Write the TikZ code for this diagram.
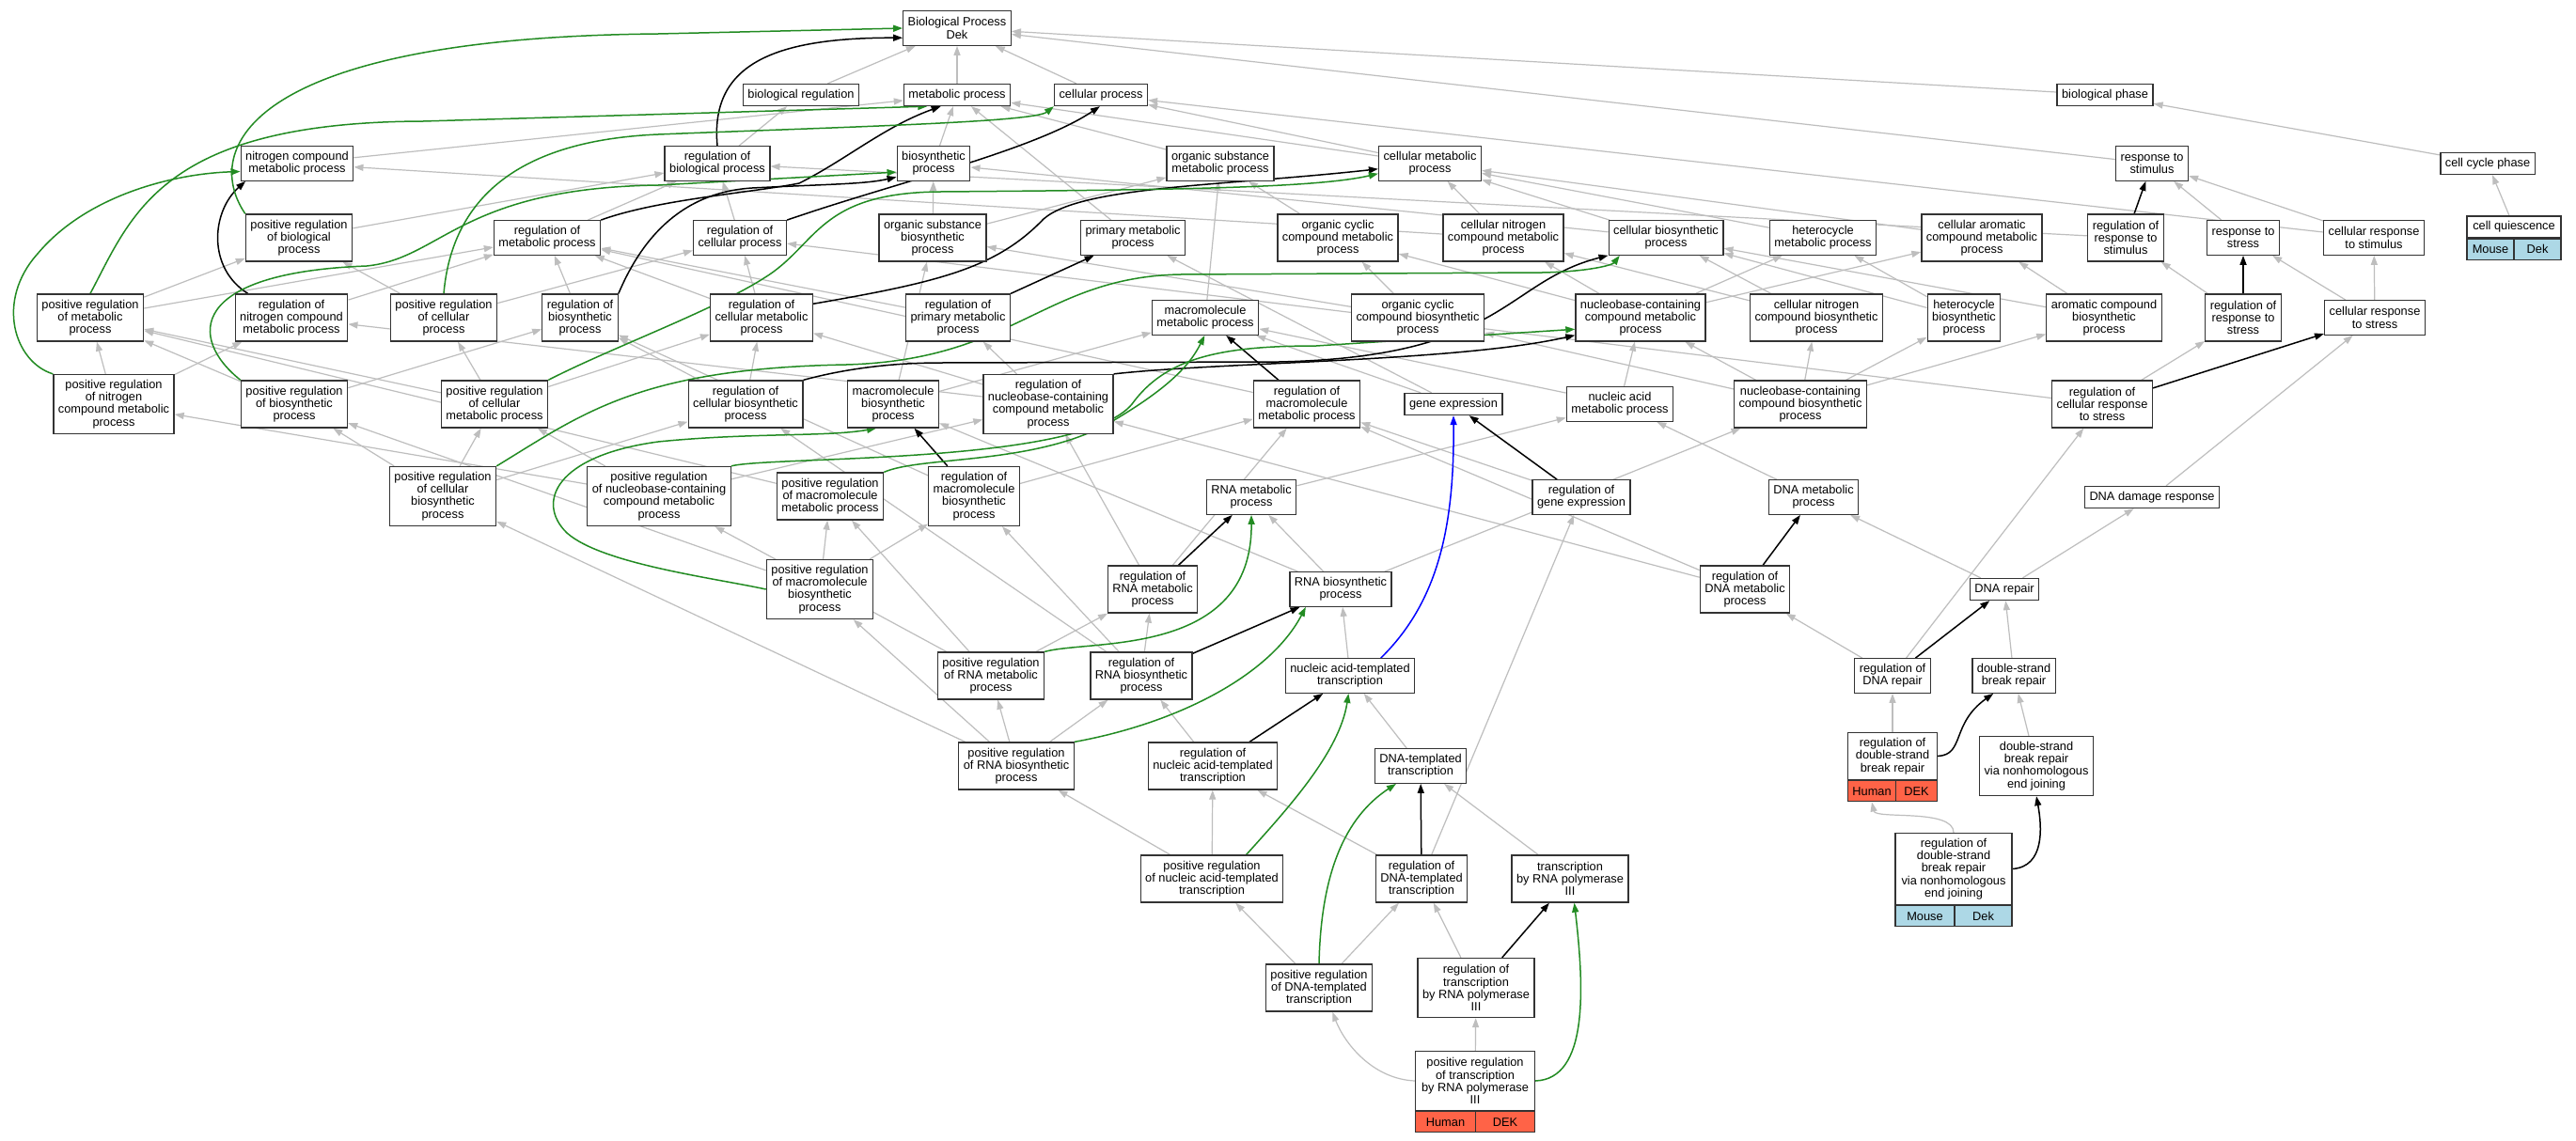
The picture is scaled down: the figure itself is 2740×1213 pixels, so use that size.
\documentclass[tikz,border=0pt]{standalone}
\usepackage{fontspec}
\setmainfont{Liberation Sans}
\usetikzlibrary{arrows.meta}
\definecolor{isagray}{RGB}{190,190,190}
\definecolor{posgreen}{RGB}{34,139,34}
\definecolor{human}{RGB}{255,99,71}
\definecolor{mouse}{RGB}{173,216,230}
\pgfdeclarelayer{back}
\pgfsetlayers{back,main}

\begin{document}
\begin{tikzpicture}[x=1pt,y=-1pt,
  term/.style={draw=black!80, line width=1.3pt, fill=white, align=center, inner xsep=5pt, inner ysep=1pt, font=\fontsize{12.8}{13.3}\selectfont},
  one/.style={term, minimum height=23pt},
  two/.style={term, minimum height=36.5pt},
  three/.style={term, minimum height=50pt},
  four/.style={term, minimum height=63pt},
  five/.style={term, minimum height=76pt},
  sp/.style={term, inner sep=0pt, minimum height=22pt},
  isa/.style={draw=isagray, line width=1.2pt, -{Triangle[length=10pt,width=7pt]}},
  reg/.style={draw=black, line width=1.5pt, -{Triangle[length=10pt,width=7pt]}},
  upreg/.style={draw=posgreen, line width=1.5pt, -{Triangle[length=10pt,width=7pt]}},
  partof/.style={draw=blue, line width=1.5pt, -{Triangle[length=10pt,width=7pt]}}]
\useasboundingbox (0,0) rectangle (2740,1213);

\node[two] (BP) at (1018,30) {Biological Process\\Dek};
\node[one] (bioreg) at (852,101) {biological regulation};
\node[one] (metab) at (1018,101) {metabolic process};
\node[one] (cellproc) at (1171,101) {cellular process};
\node[one] (biophase) at (2239,101) {biological phase};

\node[two] (nitro) at (316,174) {nitrogen compound\\metabolic process};
\node[two] (regbio) at (763,174) {regulation of\\biological process};
\node[two] (biosyn) at (993,174) {biosynthetic\\process};
\node[two] (orgsub) at (1298,174) {organic substance\\metabolic process};
\node[two] (cellmet) at (1521,174) {cellular metabolic\\process};
\node[two] (resp) at (2289,174) {response to\\stimulus};
\node[one] (ccphase) at (2646,174) {cell cycle phase};

\node[three] (posregbio) at (318,253) {positive regulation\\of biological\\process};
\node[two] (regmet) at (582,253) {regulation of\\metabolic process};
\node[two] (regcell) at (787,253) {regulation of\\cellular process};
\node[three] (orgsubbio) at (992,253) {organic substance\\biosynthetic\\process};
\node[two] (primet) at (1205,253) {primary metabolic\\process};
\node[three] (orgcyc) at (1423,253) {organic cyclic\\compound metabolic\\process};
\node[three] (cellnitro) at (1599,253) {cellular nitrogen\\compound metabolic\\process};
\node[two] (cellbio) at (1772,253) {cellular biosynthetic\\process};
\node[two] (hetmet) at (1939,253) {heterocycle\\metabolic process};
\node[three] (cellarom) at (2108,253) {cellular aromatic\\compound metabolic\\process};
\node[three] (regresp) at (2261,253) {regulation of\\response to\\stimulus};
\node[two] (respstress) at (2386,253) {response to\\stress};
\node[two] (cellrespstim) at (2525,253) {cellular response\\to stimulus};
\node[one, minimum width=100pt] (cellquies) at (2674,241.5) {cell quiescence};
\node[sp, fill=mouse, minimum width=50pt, anchor=north west] (cellquiesA) at (cellquies.south west) {Mouse};
\node[sp, fill=mouse, minimum width=50pt, anchor=north east] (cellquiesB) at (cellquies.south east) {Dek};

\node[three] (posregmet) at (96,338) {positive regulation\\of metabolic\\process};
\node[three] (regnitro) at (310,338) {regulation of\\nitrogen compound\\metabolic process};
\node[three] (posregcell) at (472,338) {positive regulation\\of cellular\\process};
\node[three] (regbiosyn) at (617,338) {regulation of\\biosynthetic\\process};
\node[three] (regcellmet) at (810,338) {regulation of\\cellular metabolic\\process};
\node[three] (regprimet) at (1019,338) {regulation of\\primary metabolic\\process};
\node[two] (macromet) at (1282,338) {macromolecule\\metabolic process};
\node[three] (orgcycbio) at (1508,338) {organic cyclic\\compound biosynthetic\\process};
\node[three] (nucmet) at (1745,338) {nucleobase-containing\\compound metabolic\\process};
\node[three] (cellnitrobio) at (1932,338) {cellular nitrogen\\compound biosynthetic\\process};
\node[three] (hetbio) at (2089,338) {heterocycle\\biosynthetic\\process};
\node[three] (arombio) at (2238,338) {aromatic compound\\biosynthetic\\process};
\node[three] (regrespstress) at (2386,338) {regulation of\\response to\\stress};
\node[two] (cellrespstress) at (2526,338) {cellular response\\to stress};

\node[four] (posregnitro) at (121,430) {positive regulation\\of nitrogen\\compound metabolic\\process};
\node[three] (posregbiosyn) at (313,430) {positive regulation\\of biosynthetic\\process};
\node[three] (posregcellmet) at (526,430) {positive regulation\\of cellular\\metabolic process};
\node[three] (regcellbio) at (793,430) {regulation of\\cellular biosynthetic\\process};
\node[three] (macrobio) at (950,430) {macromolecule\\biosynthetic\\process};
\node[four] (regnuc) at (1115,430) {regulation of\\nucleobase-containing\\compound metabolic\\process};
\node[three] (regmacromet) at (1390,430) {regulation of\\macromolecule\\metabolic process};
\node[one] (geneexp) at (1546,430) {gene expression};
\node[two] (nucacid) at (1723,430) {nucleic acid\\metabolic process};
\node[three] (nucbio) at (1915,430) {nucleobase-containing\\compound biosynthetic\\process};
\node[three] (regcellrespstress) at (2236,430) {regulation of\\cellular response\\to stress};

\node[four] (posregcellbio) at (471,528) {positive regulation\\of cellular\\biosynthetic\\process};
\node[four] (posregnuc) at (701,528) {positive regulation\\of nucleobase-containing\\compound metabolic\\process};
\node[three] (posregmacromet) at (883,528) {positive regulation\\of macromolecule\\metabolic process};
\node[four] (regmacrobio) at (1036,528) {regulation of\\macromolecule\\biosynthetic\\process};
\node[two] (RNAmet) at (1331,529) {RNA metabolic\\process};
\node[two] (reggeneexp) at (1682,529) {regulation of\\gene expression};
\node[two] (DNAmet) at (1929,529) {DNA metabolic\\process};
\node[one] (DNAdamage) at (2289,529) {DNA damage response};

\node[four] (posregmacrobio) at (872,627) {positive regulation\\of macromolecule\\biosynthetic\\process};
\node[three] (regRNAmet) at (1226,627) {regulation of\\RNA metabolic\\process};
\node[two] (RNAbio) at (1426,627) {RNA biosynthetic\\process};
\node[three] (regDNAmet) at (1856,627) {regulation of\\DNA metabolic\\process};
\node[one] (DNArepair) at (2132,627) {DNA repair};

\node[three] (posregRNAmet) at (1054,719) {positive regulation\\of RNA metabolic\\process};
\node[three] (regRNAbio) at (1214,719) {regulation of\\RNA biosynthetic\\process};
\node[two] (NAT) at (1436,719) {nucleic acid-templated\\transcription};
\node[two] (regDNArepair) at (2013,719) {regulation of\\DNA repair};
\node[two] (dsbrepair) at (2142,719) {double-strand\\break repair};

\node[three] (posregRNAbio) at (1081,815) {positive regulation\\of RNA biosynthetic\\process};
\node[three] (regNAT) at (1290,815) {regulation of\\nucleic acid-templated\\transcription};
\node[two] (DNAtemp) at (1511,815) {DNA-templated\\transcription};
\node[three, minimum width=95pt] (regdsb) at (2013,804.5) {regulation of\\double-strand\\break repair};
\node[sp, fill=human, minimum width=51pt, anchor=north west] (regdsbA) at (regdsb.south west) {Human};
\node[sp, fill=human, minimum width=44pt, anchor=north east] (regdsbB) at (regdsb.south east) {DEK};
\node[four] (nhej) at (2166,815) {double-strand\\break repair\\via nonhomologous\\end joining};

\node[three] (posregNAT) at (1289,935) {positive regulation\\of nucleic acid-templated\\transcription};
\node[three] (regDNAtemp) at (1512,935) {regulation of\\DNA-templated\\transcription};
\node[three] (transPol3) at (1670,935) {transcription\\by RNA polymerase\\III};
\node[five, minimum width=124pt] (regnhej) at (2078,924.5) {regulation of\\double-strand\\break repair\\via nonhomologous\\end joining};
\node[sp, fill=mouse, minimum width=63pt, anchor=north west] (regnhejA) at (regnhej.south west) {Mouse};
\node[sp, fill=mouse, minimum width=61pt, anchor=north east] (regnhejB) at (regnhej.south east) {Dek};

\node[three] (posregDNAtemp) at (1403,1051) {positive regulation\\of DNA-templated\\transcription};
\node[four] (regPol3) at (1570,1051) {regulation of\\transcription\\by RNA polymerase\\III};

\node[four, minimum width=127pt] (posregPol3) at (1569,1150) {positive regulation\\of transcription\\by RNA polymerase\\III};
\node[sp, fill=human, minimum width=64pt, anchor=north west] (posregPol3A) at (posregPol3.south west) {Human};
\node[sp, fill=human, minimum width=63pt, anchor=north east] (posregPol3B) at (posregPol3.south east) {DEK};

\begin{pgfonlayer}{back}
\fill[white] (0,0) rectangle (2740,1213);
\foreach \a/\b in {bioreg/BP,metab/BP,cellproc/BP,biophase/BP,resp/BP,ccphase/biophase,cellquies/ccphase,
  regbio/bioreg,biosyn/metab,orgsub/metab,primet/metab,cellmet/metab,cellmet/cellproc,nitro/metab,
  cellrespstim/cellproc,regmet/regbio,regcell/regbio,posregbio/regbio,orgsubbio/biosyn,orgsubbio/orgsub,
  cellbio/biosyn,cellbio/cellmet,macromet/orgsub,orgcyc/orgsub,cellnitro/cellmet,cellnitro/nitro,
  hetmet/cellmet,cellarom/cellmet,orgcycbio/orgcyc,orgcycbio/orgsubbio,nucmet/cellnitro,nucmet/hetmet,
  nucmet/cellarom,nucmet/orgcyc,cellnitrobio/cellbio,cellnitrobio/cellnitro,hetbio/hetmet,hetbio/cellbio,
  arombio/cellarom,arombio/cellbio,respstress/resp,cellrespstim/resp,regresp/regbio,regrespstress/regresp,
  cellrespstress/respstress,cellrespstress/cellrespstim,regcellrespstress/regrespstress,regcellrespstress/regcell,
  DNAdamage/cellrespstress,regDNArepair/regcellrespstress,regDNArepair/regDNAmet,DNArepair/DNAmet,
  DNArepair/DNAdamage,dsbrepair/DNArepair,nhej/dsbrepair,regdsb/regDNArepair,DNAmet/nucacid,
  regDNAmet/regmacromet,regDNAmet/regnuc,nucacid/nucmet,nucacid/macromet,nucbio/nucmet,nucbio/cellnitrobio,
  nucbio/hetbio,nucbio/arombio,nucbio/orgcycbio,RNAmet/nucacid,RNAbio/RNAmet,RNAbio/nucbio,RNAbio/macrobio,
  NAT/RNAbio,DNAtemp/NAT,transPol3/DNAtemp,regNAT/regRNAbio,regDNAtemp/regNAT,regDNAtemp/reggeneexp,
  posregDNAtemp/posregNAT,posregDNAtemp/regDNAtemp,regPol3/regDNAtemp,posregPol3/regPol3,posregNAT/regNAT,
  posregNAT/posregRNAbio,posregRNAbio/regRNAbio,posregRNAbio/posregRNAmet,posregRNAbio/posregmacrobio,
  posregRNAbio/posregcellbio,regRNAbio/regRNAmet,regRNAbio/regmacrobio,regRNAbio/regcellbio,
  regRNAmet/regmacromet,regRNAmet/regnuc,posregRNAmet/regRNAmet,posregRNAmet/posregmacromet,
  posregRNAmet/posregnuc,reggeneexp/regmacromet,geneexp/macromet,geneexp/primet,regmacromet/regmet,
  regprimet/regmet,regcellmet/regmet,regcellmet/regcell,regbiosyn/regmet,regnitro/regmet,posregmet/regmet,
  posregmet/posregbio,posregcell/posregbio,posregcell/regcell,posregnitro/posregmet,posregnitro/regnitro,
  posregbiosyn/posregmet,posregbiosyn/regbiosyn,posregcellmet/posregcell,posregcellmet/regcellmet,
  posregcellmet/posregmet,regcellbio/regcellmet,regcellbio/regbiosyn,regmacrobio/regbiosyn,
  posregcellbio/posregcellmet,posregcellbio/posregbiosyn,posregcellbio/regcellbio,posregnuc/posregcellmet,
  posregnuc/regnuc,posregnuc/posregnitro,posregmacromet/posregmet,posregmacrobio/posregmacromet,
  posregmacrobio/regmacrobio,posregmacrobio/posregbiosyn,regmacrobio/regmacromet,macrobio/macromet,
  macrobio/orgsubbio,regnuc/regprimet,regnuc/regcellmet,regnuc/regnitro}
  \draw[isa] (\a) -- (\b);
\draw[isa] (posregPol3.west) .. controls (1460,1148) and (1430,1110) .. (posregDNAtemp.299);
\draw[isa] (regnhej.north) .. controls (2078,860) and (1995,872) .. (regdsbA.south);

\foreach \a/\b in {regprimet/primet,regmacromet/macromet,regmacrobio/macrobio,regRNAmet/RNAmet,
  regRNAbio/RNAbio,regNAT/NAT,regDNAtemp/DNAtemp,regPol3/transPol3,reggeneexp/geneexp,regDNAmet/DNAmet,
  regDNArepair/DNArepair,regresp/resp,regrespstress/respstress,regcellrespstress/cellrespstress}
  \draw[reg] (\a) -- (\b);
\draw[reg] (regbio.north) .. controls (755,70) and (820,40) .. (BP.190);
\draw[reg] (regmet.north east) .. controls (700,212) and (800,205) .. (850,195) .. controls (900,170) and (940,135) .. (metab.215);
\draw[reg] (regbiosyn.north east) .. controls (680,260) and (720,205) .. (800,200) .. controls (880,196) and (920,196) .. (biosyn.200);
\draw[reg] (regnitro.151) .. controls (220,285) and (225,225) .. (nitro.199);
\draw[reg] (regcell.north east) .. controls (950,195) and (1100,160) .. (cellproc.265);
\draw[reg] (regcellmet.15) .. controls (1000,300) and (1060,285) .. (1110,233) .. controls (1150,198) and (1300,198) .. (cellmet.186);
\draw[reg] (regcellbio.north east) .. controls (900,392) and (950,386) .. (1000,386) -- (1360,385) .. controls (1600,380) and (1600,300) .. (cellbio.197);
\draw[reg] (regnuc.north east) .. controls (1300,385) and (1550,385) .. (nucmet.195);
\draw[reg] (regdsb.east) .. controls (2090,803) and (2075,770) .. (dsbrepair.221);
\draw[reg] (regnhej.east) .. controls (2175,922) and (2172,880) .. (nhej.south);

\draw[upreg] (posregbio.north west) .. controls (215,160) and (260,40) .. (700,36) -- (BP.180);
\draw[upreg] (posregmet.north) .. controls (140,230) and (170,130) .. (450,129) -- (metab.201);
\draw[upreg] (posregnitro.north west) .. controls (15,385) and (-5,320) .. (40,270) .. controls (90,210) and (180,185) .. (nitro.188);
\draw[upreg] (posregcell.north) .. controls (480,220) and (540,150) .. (700,143) .. controls (900,135) and (1100,130) .. (cellproc.south west);
\draw[upreg] (posregbiosyn.north west) .. controls (200,360) and (200,290) .. (390,283) .. controls (470,275) and (490,200) .. (700,197) -- (biosyn.193);
\draw[upreg] (posregcellmet.north east) .. controls (650,370) and (760,330) .. (814,295) .. controls (870,260) and (870,205) .. (1000,204) .. controls (1250,202) and (1400,200) .. (cellmet.191);
\draw[upreg] (posregcellbio.north east) .. controls (620,440) and (680,392) .. (900,388) .. controls (1080,383) and (1110,295) .. (1255,292) -- (1640,290) .. controls (1690,289) and (1715,282) .. (cellbio.201);
\draw[upreg] (posregnuc.north east) .. controls (820,485) and (1150,495) .. (1204,430) .. controls (1240,380) and (1300,368) .. (1400,368) -- (nucmet.190);
\draw[upreg] (posregmacromet.north east) .. controls (980,485) and (1100,495) .. (1180,450) .. controls (1240,415) and (1265,390) .. (macromet.268);
\draw[upreg] (posregmacrobio.west) .. controls (760,615) and (640,600) .. (603,567) .. controls (570,535) and (590,485) .. (700,470) .. controls (800,460) and (880,465) .. (macrobio.235);
\draw[upreg] (posregRNAmet.north east) .. controls (1160,680) and (1332,700) .. (RNAmet.south);
\draw[upreg] (posregRNAbio.north east) .. controls (1250,770) and (1350,720) .. (RNAbio.207);
\draw[upreg] (posregNAT.35) .. controls (1370,860) and (1425,800) .. (NAT.265);
\draw[upreg] (posregDNAtemp.north) .. controls (1405,930) and (1430,870) .. (DNAtemp.216);
\draw[upreg] (posregPol3.east) .. controls (1690,1148) and (1685,1050) .. (transPol3.280);

\draw[partof] (NAT.30) .. controls (1530,640) and (1547,560) .. (geneexp.south);
\end{pgfonlayer}
\end{tikzpicture}
\end{document}
